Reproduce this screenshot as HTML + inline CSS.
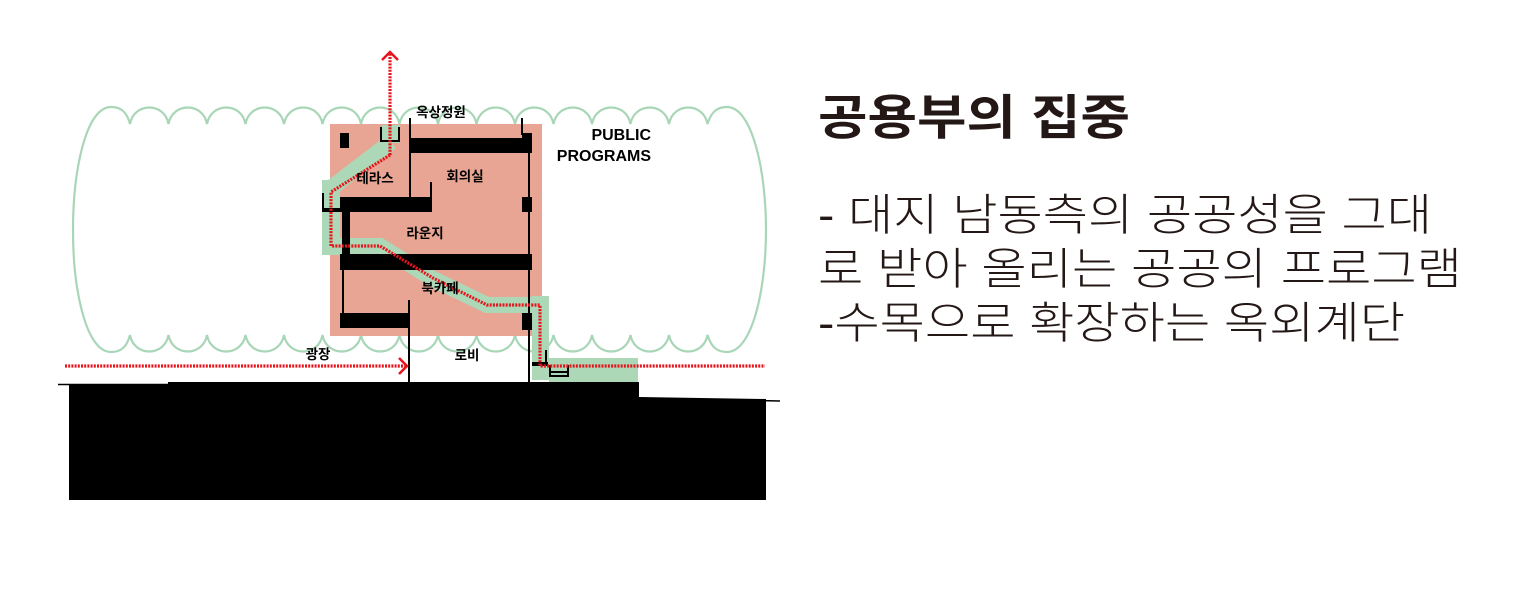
<!DOCTYPE html>
<html><head><meta charset="utf-8"><style>
html,body{margin:0;padding:0;background:#fff;width:1528px;height:597px;overflow:hidden}
svg{display:block}
.k{font-family:"Liberation Sans","Noto Sans CJK KR",sans-serif;font-weight:bold;fill:#000}
</style></head><body>
<svg width="1528" height="597" viewBox="0 0 1528 597" xmlns="http://www.w3.org/2000/svg">
<!-- cloud -->
<path fill="none" stroke="#a9d6b7" stroke-width="2.2" d="M130,124
 C134,102 164.5,102 168.5,124 C172.5,102 203,102 207,124 C211,102 241.5,102 245.5,124 C249.5,102 280,102 284,124 C288,102 318.5,102 322.5,124 C326.5,102 357,102 361,124 C365,102 395.5,102 399.5,124 C403.5,102 434,102 438,124 C442,102 472.5,102 476.5,124 C480.5,102 511,102 515,124 C519,102 549.5,102 553.5,124 C557.5,102 588,102 592,124 C596,102 626.5,102 630.5,124 C634.5,102 665,102 669,124 C673,102 703.5,102 707.5,124
 C711,113 716,107 727,107 C752,107 766,170 766,230 C766,290 752,352 727,352 C716,352 711,346 707.5,335
 C703.5,357 673,357 669,335 C665,357 634.5,357 630.5,335 C626.5,357 596,357 592,335 C588,357 557.5,357 553.5,335 C549.5,357 519,357 515,335 C511,357 480.5,357 476.5,335 C472.5,357 442,357 438,335 C434,357 403.5,357 399.5,335 C395.5,357 365,357 361,335 C357,357 326.5,357 322.5,335 C318.5,357 288,357 284,335 C280,357 249.5,357 245.5,335 C241.5,357 211,357 207,335 C203,357 172.5,357 168.5,335 C164.5,357 134,357 130,335
 C127,346 122,352 111,352 C86,352 73,290 73,230 C73,170 86,107 111,107 C122,107 127,113 130,124 Z"/>
<!-- pink building -->
<rect x="330" y="124" width="212" height="212" fill="#e8a593"/>
<!-- green bands -->
<g fill="#acd8b8">
<rect x="382" y="125" width="18" height="18"/>
<rect x="322" y="180" width="18" height="75"/>
<rect x="549" y="358" width="89" height="24"/>
<rect x="532" y="296" width="17" height="84"/>
</g>
<polyline fill="none" stroke="#acd8b8" stroke-width="16" stroke-linejoin="miter" points="391,142 331,188 331,246 380,246 433,279 487,305 540,305 540,365"/>
<!-- ground -->
<path d="M69,385 L168,385 L168,382 L639,382 L639,397 L766,399 L766,500 L69,500 Z" fill="#000"/>
<line x1="58" y1="384.5" x2="170" y2="384.5" stroke="#000" stroke-width="1.5"/>
<line x1="639" y1="398" x2="780" y2="401" stroke="#000" stroke-width="1.5"/>
<!-- structure -->
<g fill="#000">
<rect x="410" y="138" width="122" height="15"/>
<rect x="522" y="133" width="10" height="20"/>
<rect x="340" y="133" width="9" height="15"/>
<rect x="340" y="197" width="92" height="15"/>
<rect x="522" y="197" width="10" height="15"/>
<rect x="342" y="197" width="8" height="60"/>
<rect x="340" y="254" width="192" height="16"/>
<rect x="340" y="313" width="70" height="15"/>
<rect x="522" y="313" width="10" height="17"/>
<rect x="322" y="208" width="18" height="4"/>
<rect x="532" y="362" width="16" height="4"/>
</g>
<g stroke="#000" stroke-width="2" fill="none">
<line x1="410" y1="118" x2="410" y2="198"/>
<line x1="522" y1="118" x2="522" y2="135"/>
<line x1="529" y1="150" x2="529" y2="382"/>
<line x1="431" y1="182" x2="431" y2="210"/>
<line x1="343" y1="270" x2="343" y2="314"/>
<line x1="409" y1="300" x2="409" y2="382"/>
<line x1="323" y1="193" x2="323" y2="212"/>
<line x1="546" y1="350" x2="546" y2="366"/>
<polyline points="381,127 381,141 399,141 399,127"/>
<polyline points="550,365 550,376 568,376 568,365"/>
<line x1="551" y1="372" x2="567" y2="372"/>
</g>
<!-- red dotted path -->
<g fill="none" stroke="#e8141b" stroke-width="3.2" stroke-dasharray="2 1.2">
<polyline points="390,155 390,52"/>
<polyline points="390,155 331,192 331,246 380,246 433,278 487,305 540,305 540,366 765,366"/>
<line x1="65" y1="366" x2="406" y2="366"/>
</g>
<g fill="none" stroke="#e8141b" stroke-width="2.5">
<polyline points="382,60 390,52 398,60"/>
<polyline points="399,358 407,366 399,374"/>
</g>
<!-- labels -->
<g class="k" font-size="13.5">
<text x="441" y="117" text-anchor="middle">옥상정원</text>
<text x="375" y="183" text-anchor="middle">테라스</text>
<text x="465" y="181" text-anchor="middle">회의실</text>
<text x="425" y="238" text-anchor="middle">라운지</text>
<text x="440" y="293" text-anchor="middle">북카페</text>
<text x="318" y="359" text-anchor="middle">광장</text>
<text x="467" y="360" text-anchor="middle">로비</text>
</g>
<g class="k" font-size="16" text-anchor="end">
<text x="651" y="140">PUBLIC</text>
<text x="651" y="161">PROGRAMS</text>
</g>
<!-- right text -->
<g font-family="'Liberation Sans','Noto Sans CJK KR',sans-serif" fill="#231815">
<text x="818" y="134" font-size="48" font-weight="bold" textLength="312" lengthAdjust="spacingAndGlyphs">공용부의 집중</text>
<g font-weight="300">
<text x="818" y="230" font-size="44" textLength="614" lengthAdjust="spacingAndGlyphs">- 대지 남동측의 공공성을 그대</text>
<text x="818" y="284" font-size="44" textLength="644" lengthAdjust="spacingAndGlyphs">로 받아 올리는 공공의 프로그램</text>
<text x="818" y="338" font-size="44" textLength="587" lengthAdjust="spacingAndGlyphs">-수목으로 확장하는 옥외계단</text>
</g>
</g>
</svg>
</body></html>
